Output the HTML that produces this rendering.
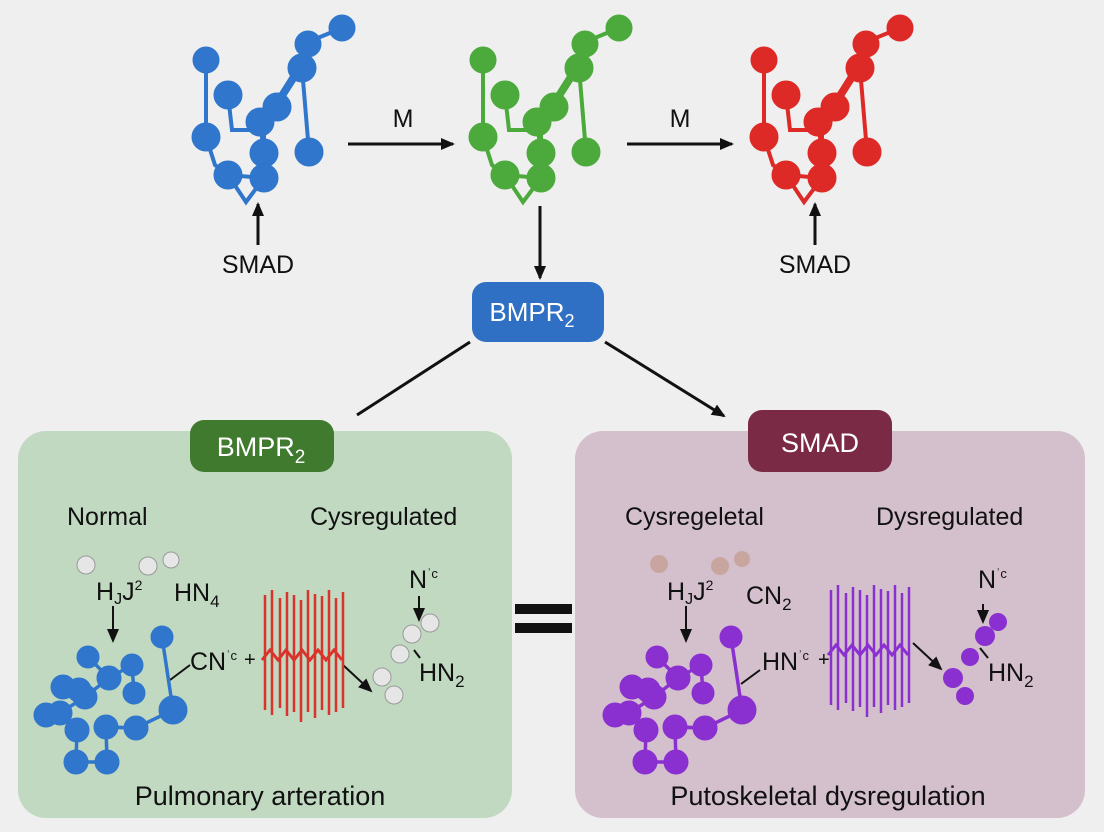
<!DOCTYPE html>
<html><head><meta charset="utf-8"><style>
html,body{margin:0;padding:0;background:#efefef;}
svg{display:block;font-family:"Liberation Sans",sans-serif;}
</style></head><body>
<svg width="1104" height="832" viewBox="0 0 1104 832" xmlns="http://www.w3.org/2000/svg">
<defs>
<marker id="ah" markerWidth="14" markerHeight="12" refX="12" refY="6" orient="auto" markerUnits="userSpaceOnUse"><path d="M0,0 L14,6 L0,12 z" fill="#111"/></marker>
<g id="mol">
 <g fill="none" stroke-width="4" stroke-linecap="round">
  <path d="M206,60 L206,137 L215,165 L228,175 L246,202 L264,178 L228,175"/>
  <path d="M228,95 L232,130 L264,130 L264,178"/>
  <path d="M342,28 L308,42 L302,68 L277,107 L260,122 L264,153"/>
  <path d="M308,42 L296,70 L272,108"/>
  <path d="M302,68 L309,152"/>
 </g>
 <circle cx="342" cy="28" r="13"/><circle cx="308" cy="44" r="13"/><circle cx="302" cy="68" r="14"/>
 <circle cx="206" cy="60" r="13"/><circle cx="228" cy="95" r="14"/><circle cx="277" cy="107" r="14"/>
 <circle cx="260" cy="122" r="14"/><circle cx="206" cy="137" r="14"/><circle cx="309" cy="152" r="14"/>
 <circle cx="264" cy="153" r="14"/><circle cx="264" cy="178" r="14"/><circle cx="228" cy="175" r="14"/>
</g>
<g id="clu">
 <g fill="none" stroke-width="3.5">
  <path d="M162,637 L173,710 L136,728 L106,727 L107,762 L76,762 L77,730 L60,713 L46,715"/>
  <path d="M88,657 L109,678 L132,665 L134,693 M109,678 L85,697 L60,713 M106,727 L136,728"/>
 </g>
 <circle cx="162" cy="637" r="11"/><circle cx="88" cy="657" r="11"/><circle cx="132" cy="665" r="11"/>
 <circle cx="109" cy="678" r="12"/><circle cx="63" cy="687" r="12"/><circle cx="79" cy="690" r="12"/>
 <circle cx="134" cy="693" r="11"/><circle cx="85" cy="697" r="12"/><circle cx="173" cy="710" r="14"/>
 <circle cx="46" cy="715" r="12"/><circle cx="60" cy="713" r="12"/><circle cx="77" cy="730" r="12"/>
 <circle cx="106" cy="727" r="12"/><circle cx="136" cy="728" r="12"/><circle cx="76" cy="762" r="12"/><circle cx="107" cy="762" r="12"/>
</g>
<g id="fib" fill="none" stroke-width="2.5">
 <path d="M265,595 V710 M272,590 V715 M280,598 V708 M287,592 V716 M294,595 V712 M301,600 V722 M308,590 V712 M315,594 V718 M322,596 V710 M329,590 V715 M336,598 V712 M343,592 V708"/>
 <path d="M262,660 L270,650 L278,660 L286,650 L294,660 L302,650 L310,660 L318,650 L326,660 L334,650 L342,660" stroke-width="3"/>
</g>
</defs>

<use href="#mol" fill="#2f76cc" stroke="#2f76cc"/>
<use href="#mol" transform="translate(277,0)" fill="#4caa3c" stroke="#4caa3c"/>
<use href="#mol" transform="translate(558,0)" fill="#dd2a26" stroke="#dd2a26"/>

<g stroke="#111" stroke-width="3" fill="none">
 <line x1="348" y1="144" x2="453" y2="144" marker-end="url(#ah)"/>
 <line x1="627" y1="144" x2="732" y2="144" marker-end="url(#ah)"/>
 <line x1="258" y1="245" x2="258" y2="204" marker-end="url(#ah)"/>
 <line x1="815" y1="245" x2="815" y2="204" marker-end="url(#ah)"/>
 <line x1="540" y1="206" x2="540" y2="278" marker-end="url(#ah)"/>
 <line x1="470" y1="342" x2="357" y2="415"/>
 <line x1="605" y1="342" x2="724" y2="416" marker-end="url(#ah)"/>
</g>
<g font-size="25" fill="#111" text-anchor="middle">
 <text x="403" y="127">M</text><text x="680" y="127">M</text>
 <text x="258" y="273">SMAD</text><text x="815" y="273">SMAD</text>
</g>
<rect x="472" y="282" width="132" height="60" rx="14" fill="#2f6fc4"/>
<text x="532" y="321" font-size="26" fill="#fff" text-anchor="middle">BMPR<tspan font-size="18" dy="6">2</tspan></text>

<rect x="18" y="431" width="494" height="387" rx="28" fill="#c1d8c1"/>
<rect x="190" y="420" width="144" height="52" rx="14" fill="#3f7a2e"/>
<text x="261" y="456" font-size="27" fill="#fff" text-anchor="middle">BMPR<tspan font-size="19" dy="7">2</tspan></text>
<g font-size="25" fill="#111">
 <text x="67" y="525">Normal</text><text x="310" y="525">Cysregulated</text>
 <text x="96" y="600">H<tspan font-size="16" dy="4">J</tspan><tspan dy="-4">J</tspan><tspan font-size="14" dy="-10">2</tspan></text>
 <text x="174" y="601">HN<tspan font-size="17" dy="6">4</tspan></text>
 <text x="190" y="670">CN<tspan font-size="13" dy="-10">ʾc</tspan></text>
 <text x="244" y="666" font-size="20">+</text>
 <text x="409" y="588">N<tspan font-size="13" dy="-10">ʾc</tspan></text>
 <text x="419" y="681">HN<tspan font-size="17" dy="6">2</tspan></text>
 <text x="260" y="805" font-size="27" text-anchor="middle">Pulmonary arteration</text>
</g>
<g stroke="#111" stroke-width="2" fill="none">
 <line x1="113" y1="606" x2="113" y2="641" marker-end="url(#ah)"/>
 <line x1="170" y1="680" x2="190" y2="665"/>
 <line x1="343" y1="665" x2="371" y2="691" marker-end="url(#ah)"/>
 <line x1="419" y1="596" x2="419" y2="620" marker-end="url(#ah)"/>
 <line x1="414" y1="650" x2="420" y2="658"/>
</g>
<use href="#clu" fill="#2f76cc" stroke="#2f76cc"/>
<use href="#fib" stroke="#d9332b"/>
<g fill="#e6e6e6" stroke="#999" stroke-width="1">
 <circle cx="86" cy="565" r="9"/><circle cx="148" cy="566" r="9"/><circle cx="171" cy="560" r="8"/>
 <circle cx="430" cy="623" r="9"/><circle cx="412" cy="634" r="9"/><circle cx="400" cy="654" r="9"/><circle cx="382" cy="677" r="9"/><circle cx="394" cy="695" r="9"/>
</g>

<rect x="515" y="604" width="57" height="10" fill="#111"/>
<rect x="515" y="623" width="57" height="10" fill="#111"/>

<rect x="575" y="431" width="510" height="387" rx="28" fill="#d4c0cc"/>
<rect x="748" y="410" width="144" height="62" rx="14" fill="#7a2a45"/>
<text x="820" y="452" font-size="27" fill="#fff" text-anchor="middle">SMAD</text>
<g font-size="25" fill="#111">
 <text x="625" y="525">Cysregeletal</text><text x="876" y="525">Dysregulated</text>
 <text x="667" y="600">H<tspan font-size="16" dy="4">J</tspan><tspan dy="-4">J</tspan><tspan font-size="14" dy="-10">2</tspan></text>
 <text x="746" y="604">CN<tspan font-size="17" dy="6">2</tspan></text>
 <text x="762" y="670">HN<tspan font-size="13" dy="-10">ʾc</tspan></text>
 <text x="818" y="666" font-size="20">+</text>
 <text x="978" y="588">N<tspan font-size="13" dy="-10">ʾc</tspan></text>
 <text x="988" y="681">HN<tspan font-size="17" dy="6">2</tspan></text>
 <text x="828" y="805" font-size="27" text-anchor="middle">Putoskeletal dysregulation</text>
</g>
<g stroke="#111" stroke-width="2" fill="none">
 <line x1="686" y1="606" x2="686" y2="641" marker-end="url(#ah)"/>
 <line x1="741" y1="684" x2="760" y2="670"/>
 <line x1="913" y1="643" x2="941" y2="669" marker-end="url(#ah)"/>
 <line x1="983" y1="604" x2="983" y2="622" marker-end="url(#ah)"/>
 <line x1="980" y1="648" x2="988" y2="658"/>
</g>
<use href="#clu" transform="translate(569,0)" fill="#8a2fd0" stroke="#8a2fd0"/>
<use href="#fib" transform="translate(566,-5)" stroke="#8a2fd0"/>
<g fill="#c9a5a0">
 <circle cx="659" cy="564" r="9"/><circle cx="720" cy="566" r="9"/><circle cx="742" cy="559" r="8"/>
</g>
<g fill="#8a2fd0">
 <circle cx="998" cy="622" r="9"/><circle cx="985" cy="636" r="10"/><circle cx="970" cy="657" r="9"/><circle cx="953" cy="678" r="10"/><circle cx="965" cy="696" r="9"/>
</g>
</svg>
</body></html>
